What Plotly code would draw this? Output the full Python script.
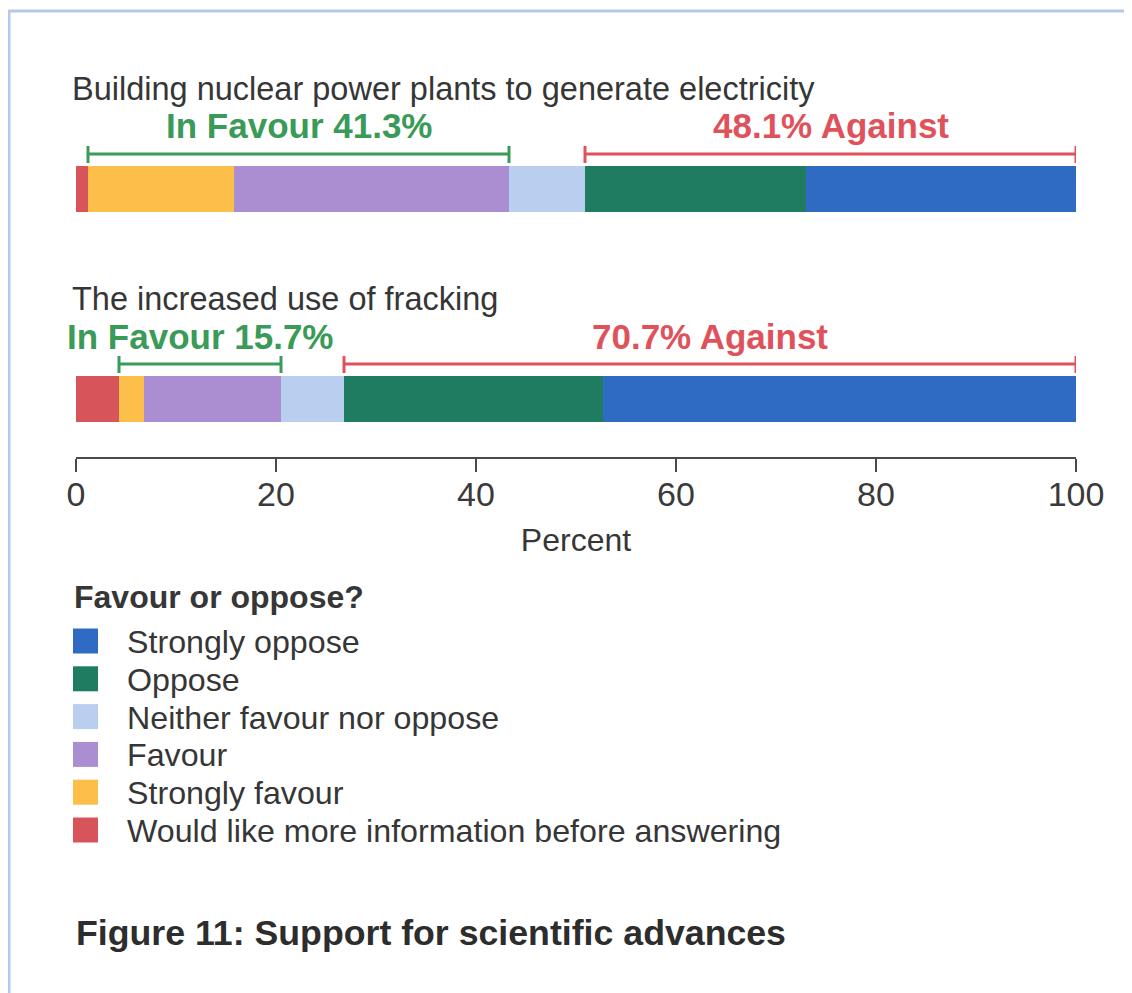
import plotly.graph_objects as go

# ---------------- data ----------------
topics = ["Building nuclear power plants to generate electricity",
          "The increased use of fracking"]
responses = ["Would like more information before answering",
             "Strongly favour",
             "Favour",
             "Neither favour nor oppose",
             "Oppose",
             "Strongly oppose"]
colors = ["#d8545b", "#fcbf4a", "#ab8dd2", "#bacff0", "#1f7c61", "#2f6ac3"]
nuclear = [1.2, 14.6, 27.5, 7.6, 22.1, 27.0]
fracking = [4.3, 2.5, 13.7, 6.3, 25.9, 47.3]
in_favour = [41.3, 15.7]
against = [48.1, 70.7]
tick_vals = [0, 20, 40, 60, 80, 100]
legend_title = "Favour or oppose?"
caption = "Figure 11: Support for scientific advances"

# ---------------- style ----------------
OFF = 8  # page body margin of the html page
W, H = 1132 - OFF, 993 - OFF
# target pixel positions (in screenshot coordinates)
PLOT_L, PLOT_R, PLOT_T, PLOT_B = 76, 1076, 60, 457
ML = PLOT_L - OFF
MR = (1132 - OFF) - (PLOT_R - OFF)
MT = PLOT_T - OFF
MB = (993 - OFF) - (PLOT_B - OFF)
FONT = "Liberation Sans, Arial, sans-serif"
TXT = "#363636"
GREEN = "#3a9a58"
RED = "#e0525b"
BORDER = "#b3c8ea"

plot_w = PLOT_R - PLOT_L
plot_h = PLOT_B - PLOT_T


def px_x(px):
    return (px - PLOT_L) / plot_w


def px_y(py):
    return (PLOT_B - py) / plot_h


series = {topics[0]: nuclear, topics[1]: fracking}
cat_order = [topics[1], topics[0]]  # bottom to top
cat_index = {t: cat_order.index(t) for t in topics}

fig = go.Figure()
for i, resp in enumerate(responses):
    fig.add_trace(go.Bar(
        y=topics,
        x=[nuclear[i], fracking[i]],
        orientation="h",
        name=resp,
        marker=dict(color=colors[i], line=dict(width=0)),
        width=0.219,
        showlegend=False,
        hovertemplate="%{y}<br>" + resp + ": %{x}%<extra></extra>",
    ))

shapes = []
annotations = []

for k, t in enumerate(topics):
    v = series[t]
    idx = cat_index[t]
    fav0 = v[0]
    fav1 = v[0] + v[1] + v[2]
    ag0 = sum(v[:4])
    ag1 = sum(v)
    for (a, b, col) in [(fav0, fav1, GREEN), (ag0, ag1, RED)]:
        common = dict(type="line", xref="x", yref="y", ysizemode="pixel",
                      yanchor=idx, line=dict(color=col, width=3))
        shapes.append(dict(x0=a, x1=b, y0=35, y1=35, **common))
        shapes.append(dict(x0=a, x1=a, y0=26, y1=43, **common))
        shapes.append(dict(x0=b, x1=b, y0=26, y1=43, **common))
    # topic title
    annotations.append(dict(
        x=0, y=idx, xref="x", yref="y", xanchor="left", yanchor="middle",
        xshift=-6, yshift=100, showarrow=False, text=t,
        font=dict(family=FONT, size=32.5, color=TXT)))
    annotations.append(dict(
        x=(fav0 + fav1) / 2, y=idx, xref="x", yref="y", xanchor="center",
        yanchor="middle", yshift=63, showarrow=False,
        text=f"In Favour {in_favour[k]}%",
        font=dict(family=FONT, size=35, color=GREEN, weight="bold")))
    annotations.append(dict(
        x=(ag0 + ag1) / 2, y=idx, xref="x", yref="y", xanchor="center",
        yanchor="middle", yshift=63, showarrow=False,
        text=f"{against[k]}% Against",
        font=dict(family=FONT, size=35, color=RED, weight="bold")))

# legend (drawn manually for large swatches)
annotations.append(dict(
    x=px_x(72), y=px_y(597), xref="paper", yref="paper", xanchor="left",
    yanchor="middle", showarrow=False, text=legend_title,
    font=dict(family=FONT, size=32, color=TXT, weight="bold")))
leg_order = list(range(len(responses)))[::-1]
for r, i in enumerate(leg_order):
    cy = 641 + r * 37.8
    shapes.append(dict(type="rect", xref="paper", yref="paper",
                       x0=px_x(73), x1=px_x(98), y0=px_y(cy - 12.5), y1=px_y(cy + 12.5),
                       fillcolor=colors[i], line=dict(width=0)))
    annotations.append(dict(
        x=px_x(125), y=px_y(cy + 1), xref="paper", yref="paper", xanchor="left",
        yanchor="middle", showarrow=False, text=responses[i],
        font=dict(family=FONT, size=32.2, color=TXT)))

# caption
annotations.append(dict(
    x=px_x(74), y=px_y(933), xref="paper", yref="paper", xanchor="left",
    yanchor="middle", showarrow=False, text=caption,
    font=dict(family=FONT, size=35.7, color="#2d2d2d", weight="bold")))

# page border (scan frame)
shapes.append(dict(type="line", xref="paper", yref="paper",
                   x0=px_x(8), x1=px_x(1140), y0=px_y(11), y1=px_y(11),
                   line=dict(color=BORDER, width=3)))
shapes.append(dict(type="line", xref="paper", yref="paper",
                   x0=px_x(9), x1=px_x(9), y0=px_y(11), y1=px_y(1000),
                   line=dict(color=BORDER, width=3)))

fig.update_layout(
    width=W, height=H, autosize=False,
    margin=dict(l=ML, r=MR, t=MT, b=MB, pad=0),
    barmode="stack",
    bargap=0,
    paper_bgcolor="white", plot_bgcolor="white",
    font=dict(family=FONT, color=TXT),
    showlegend=False,
    shapes=shapes,
    annotations=annotations,
    xaxis=dict(range=[0, 100], tickvals=tick_vals, ticktext=[str(v) for v in tick_vals],
               showgrid=False, zeroline=False, showline=True, linecolor="#4a4a4a",
               linewidth=1.5, ticks="outside", ticklen=13, tickwidth=1.5,
               tickcolor="#4a4a4a", tickfont=dict(family=FONT, size=34, color="#3a3a3a"),
               ticklabelstandoff=-7,
               title=dict(text="Percent", font=dict(family=FONT, size=32, color=TXT),
                          standoff=17),
               fixedrange=True),
    yaxis=dict(type="category", categoryorder="array", categoryarray=cat_order,
               range=[-0.276, 1.614], visible=False, fixedrange=True),
)

fig.write_html("out.html")
